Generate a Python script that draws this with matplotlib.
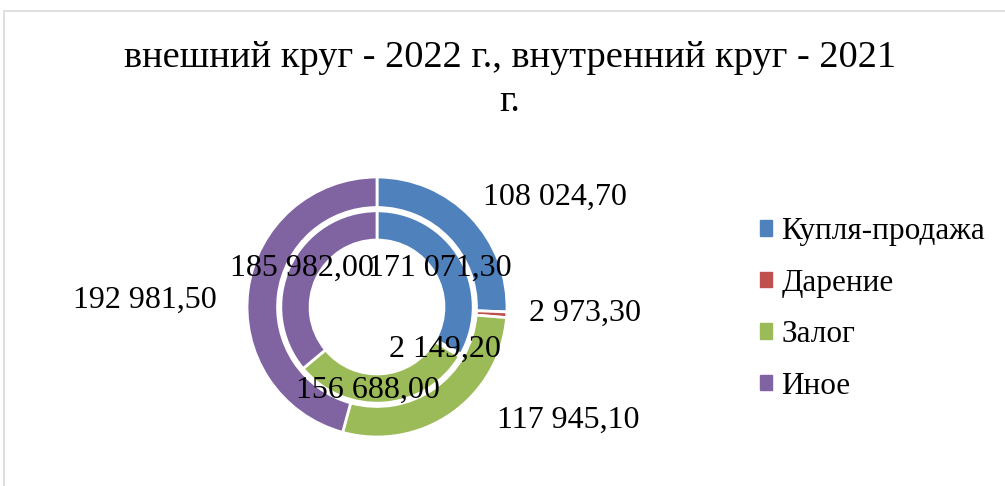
import matplotlib.pyplot as plt
from matplotlib.patches import Rectangle

# data
categories = ['Купля-продажа', 'Дарение', 'Залог', 'Иное']
values_2022 = [108024.70, 2973.30, 117945.10, 192981.50]
values_2021 = [171071.30, 2149.20, 156688.00, 185982.00]
colors = ['#4F81BD', '#C0504D', '#9BBB59', '#8064A2']

# label spots (pixels in the 1005x486 picture), Excel-style manual placement
outer_pos = [(555, 197), (585, 313), (568, 420), (145, 300)]
inner_pos = [(440, 268), (445, 349), (368, 390), (302, 268)]

plt.rcParams['font.family'] = ['Liberation Serif', 'DejaVu Serif']

W, H = 1005, 486
fig = plt.figure(figsize=(W / 100, H / 100), dpi=100)

# chart frame
fig.patches.append(Rectangle((4 / W, -0.1), 1.2, 1 - 11 / H + 0.1, transform=fig.transFigure,
                             fill=False, edgecolor='#d9d9d9', lw=1.2))

cx, cy, r = 377, 307, 130
ax = fig.add_axes([(cx - r) / W, (H - cy - r) / H, 2 * r / W, 2 * r / H])

ax.pie(values_2022, radius=1.0, colors=colors, startangle=90, counterclock=False,
       wedgeprops=dict(width=0.235, edgecolor='white', linewidth=2))
ax.pie(values_2021, radius=0.74, colors=colors, startangle=90, counterclock=False,
       wedgeprops=dict(width=0.225, edgecolor='white', linewidth=2))
ax.set_xlim(-1, 1)
ax.set_ylim(-1, 1)
ax.set_aspect('auto')


def fmt(v):
    s = f'{v:,.2f}'
    return s.replace(',', ' ').replace('.', ',')


for v, (x, y) in zip(values_2022, outer_pos):
    fig.text(x / W, 1 - y / H, fmt(v), fontsize=23, ha='center', va='center')
for v, (x, y) in zip(values_2021, inner_pos):
    fig.text(x / W, 1 - y / H, fmt(v), fontsize=23, ha='center', va='center')

fig.text(510 / W, 1 - 58 / H, 'внешний круг - 2022 г., внутренний круг - 2021',
         fontsize=27.6, ha='center', va='center')
fig.text(510 / W, 1 - 102 / H, 'г.', fontsize=27.6, ha='center', va='center')

handles = [plt.Rectangle((0, 0), 1, 1, color=c) for c in colors]
fig.legend(handles, categories, loc='center left', bbox_to_anchor=(760 / W, 1 - 309 / H),
           frameon=False, fontsize=22.5, handlelength=0.38, handleheight=0.38,
           handletextpad=0.3, labelspacing=0.72, borderpad=0, borderaxespad=0)

fig.savefig('out.png', dpi=100)
